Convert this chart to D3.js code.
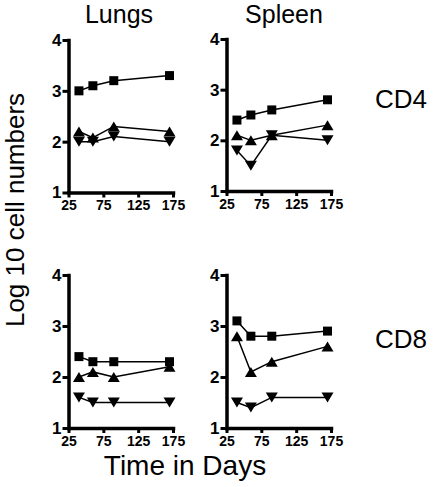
<!DOCTYPE html>
<html><head><meta charset="utf-8">
<script src="https://cdn.jsdelivr.net/npm/d3@7"></script>
<style>
html,body{margin:0;padding:0;background:#fff;}
svg{display:block;font-family:"Liberation Sans",Arial,Helvetica,sans-serif;}
</style></head>
<body>
<svg id="c" width="433" height="487"></svg>
<script>
const days = [40, 60, 90, 170];
const xTicks = [25, 75, 125, 175];
const yTicks = [1, 2, 3, 4];
const tissues = ["Lungs", "Spleen"];
const cellTypes = ["CD4", "CD8"];

const lungsCD4Square = [3.0, 3.1, 3.2, 3.3];
const lungsCD4Up     = [2.2, 2.08, 2.3, 2.2];
const lungsCD4Down   = [2.0, 2.0, 2.1, 2.0];

const spleenCD4Square = [2.4, 2.5, 2.6, 2.8];
const spleenCD4Up     = [2.1, 2.0, 2.1, 2.3];
const spleenCD4Down   = [1.8, 1.5, 2.1, 2.0];

const lungsCD8Square = [2.4, 2.3, 2.3, 2.3];
const lungsCD8Up     = [2.0, 2.1, 2.0, 2.2];
const lungsCD8Down   = [1.6, 1.5, 1.5, 1.5];

const spleenCD8Square = [3.1, 2.8, 2.8, 2.9];
const spleenCD8Up     = [2.8, 2.1, 2.3, 2.6];
const spleenCD8Down   = [1.5, 1.4, 1.6, 1.6];

const panels = [
  {x0: 68.5, x1: 173, y0: 192.5, y1: 40, series: [lungsCD4Square, lungsCD4Up, lungsCD4Down]},
  {x0: 226.5, x1: 331, y0: 191, y1: 39, series: [spleenCD4Square, spleenCD4Up, spleenCD4Down]},
  {x0: 68.5, x1: 173, y0: 428, y1: 275, series: [lungsCD8Square, lungsCD8Up, lungsCD8Down]},
  {x0: 226.5, x1: 331, y0: 428, y1: 275, series: [spleenCD8Square, spleenCD8Up, spleenCD8Down]}
];
const shapes = ["square", "up", "down"];

const svg = d3.select("#c");

function markerPath(shape) {
  if (shape === "square") return "M-4.5,-4.5H4.5V4.5H-4.5Z";
  if (shape === "up") return "M0,-5L6,5H-6Z";
  return "M0,5L6,-5H-6Z";
}

panels.forEach(p => {
  const x = d3.scaleLinear().domain([25, 175]).range([p.x0, p.x1]);
  const y = d3.scaleLinear().domain([1, 4]).range([p.y0, p.y1]);
  const g = svg.append("g");

  const xa = g.append("g").attr("transform", `translate(0,${p.y0})`)
    .call(d3.axisBottom(x).tickValues(xTicks).tickSize(5).tickSizeOuter(0).tickPadding(3));
  const ya = g.append("g").attr("transform", `translate(${p.x0},0)`)
    .call(d3.axisLeft(y).tickValues(yTicks).tickSize(6).tickSizeOuter(0).tickPadding(1).tickFormat(d3.format("d")));
  [xa, ya].forEach(a => {
    a.select(".domain").attr("stroke", "#000").attr("stroke-width", 3.5).attr("stroke-linecap", "square");
    a.selectAll(".tick line").attr("stroke", "#000").attr("stroke-width", 3);
    a.selectAll(".tick text").attr("fill", "#000").attr("font-size", 14).attr("font-weight", "bold")
      .attr("font-family", '"Liberation Sans",Arial,Helvetica,sans-serif');
  });
  ya.selectAll(".tick text").attr("font-size", 17);

  const line = d3.line().x((d, i) => x(days[i])).y(d => y(d));
  p.series.forEach(s => {
    g.append("path").attr("d", line(s)).attr("fill", "none").attr("stroke", "#000").attr("stroke-width", 1.5);
  });
  p.series.forEach((s, k) => {
    g.selectAll(null).data(s).enter().append("path")
      .attr("transform", (d, i) => `translate(${x(days[i])},${y(d)})`)
      .attr("d", markerPath(shapes[k])).attr("fill", "#000");
  });
});

// titles
svg.append("text").attr("x", 119).attr("y", 23).attr("text-anchor", "middle")
  .attr("font-size", 25).text(tissues[0]);
svg.append("text").attr("x", 284).attr("y", 23).attr("text-anchor", "middle")
  .attr("font-size", 25).text(tissues[1]);
svg.append("text").attr("x", 375).attr("y", 108).attr("font-size", 26).text(cellTypes[0]);
svg.append("text").attr("x", 375).attr("y", 348).attr("font-size", 26).text(cellTypes[1]);

svg.append("text").attr("transform", "translate(24,210) rotate(-90)").attr("text-anchor", "middle")
  .attr("font-size", 26).text("Log 10 cell numbers");
svg.append("text").attr("x", 185).attr("y", 475).attr("text-anchor", "middle")
  .attr("font-size", 28).text("Time in Days");
</script>
</body></html>
